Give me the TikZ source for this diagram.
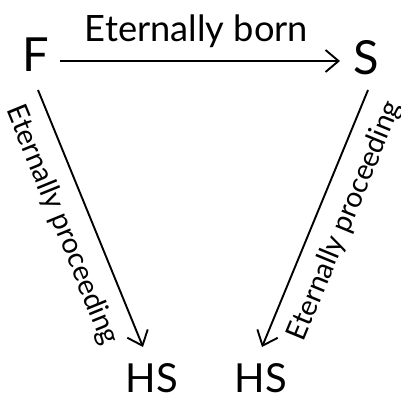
\documentclass[tikz,border=0pt]{standalone}
\usepackage{fontspec}
\setmainfont{Lato}
\usetikzlibrary{arrows.meta,calc}
\begin{document}
\begin{tikzpicture}[x=1pt,y=-1pt,
  big/.style={inner sep=0pt, font=\fontsize{47}{50}\selectfont},
  hs/.style={inner sep=0pt, font=\fontsize{40}{44}\selectfont},
  lbl/.style={inner sep=0pt, anchor=base},
  arr/.style={line width=1.9pt, -{Straight Barb[length=13pt,width=22pt,line width=1.9pt]}}]
\useasboundingbox (0,0) rectangle (401,398);
\node[big] (F) at (36,55) {F};
\node[big] (S) at (366,58) {S};
\node[hs] (HSa) at (152,378) {HS};
\node[hs] (HSb) at (261,378) {HS};
\draw[arr] ($(F)+(24,6)$) -- ($(S)+(-26,3)$);
\draw[arr] ($(F)+(2,35)$) -- ($(HSa)+(-9,-31)$);
\draw[arr] ($(S)+(2,32)$) -- ($(HSb)+(1,-31)$);
\node[lbl] (Lt) at (196.5,42) {\resizebox{223pt}{!}{Eternally born}};
\node[lbl, rotate=-67.8] (Ll) at (54.5,228) {\resizebox{256pt}{!}{Eternally proceeding}};
\node[lbl, rotate=67.6] (Lr) at (352.5,224) {\resizebox{256pt}{!}{Eternally proceeding}};
\end{tikzpicture}
\end{document}
